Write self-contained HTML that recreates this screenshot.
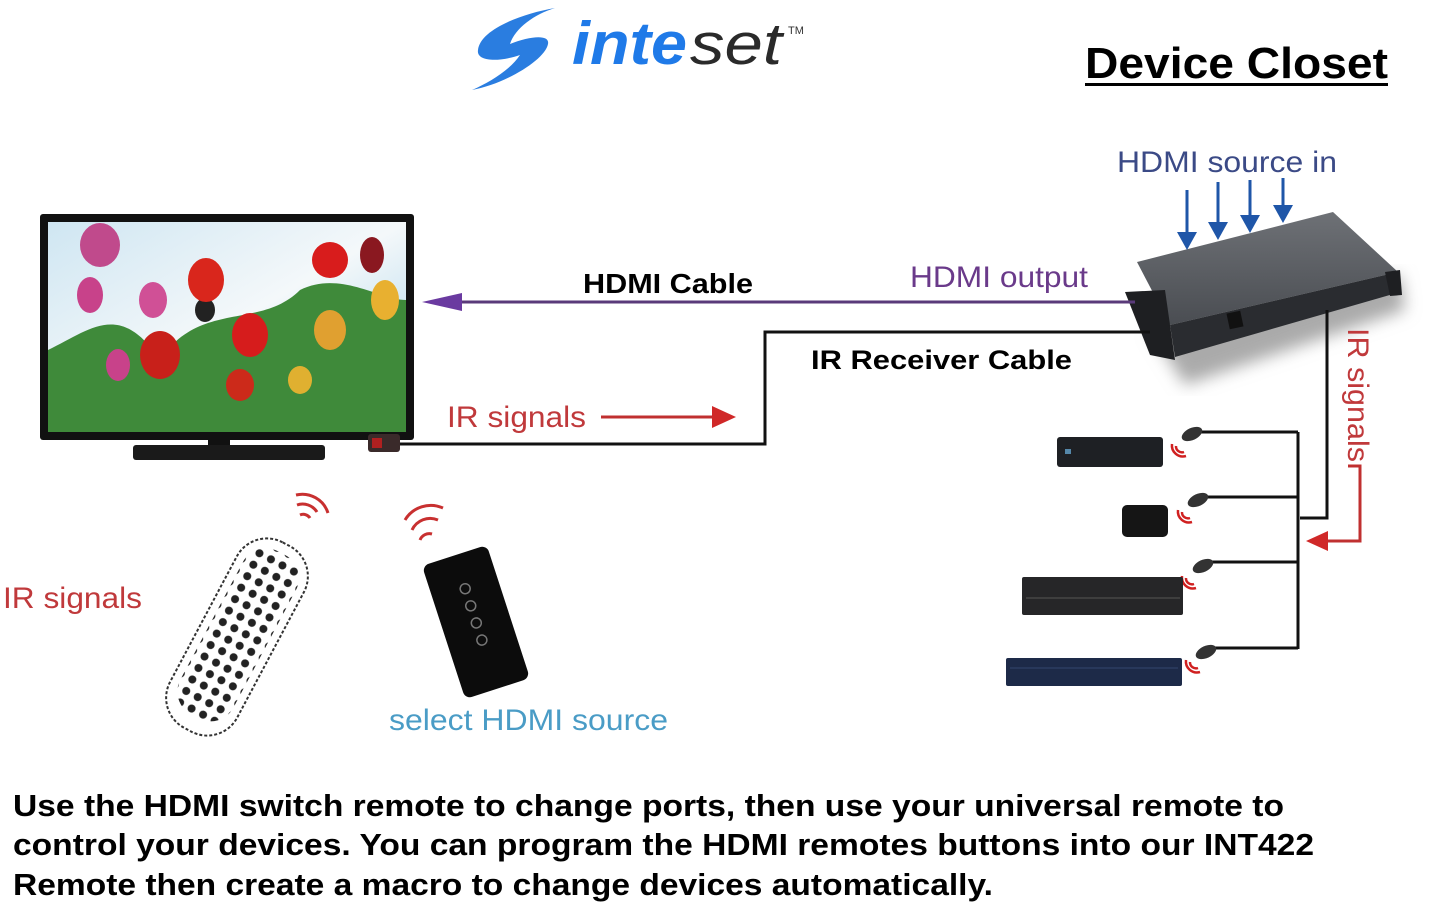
<!DOCTYPE html>
<html><head><meta charset="utf-8"><style>
html,body{margin:0;padding:0;background:#fff;width:1445px;height:904px;overflow:hidden}
svg{display:block;font-family:"Liberation Sans",sans-serif}
</style></head><body>
<svg width="1445" height="904" viewBox="0 0 1445 904" xmlns="http://www.w3.org/2000/svg">
<defs>
<linearGradient id="sky" x1="0" y1="0" x2="1" y2="1">
<stop offset="0" stop-color="#cfe6f2"/><stop offset="0.5" stop-color="#f4f8fa"/><stop offset="1" stop-color="#9fd0e8"/></linearGradient>
<linearGradient id="sw" x1="0" y1="0" x2="0" y2="1"><stop offset="0" stop-color="#6e7176"/><stop offset="1" stop-color="#4a4d52"/></linearGradient>
<pattern id="btn" width="13" height="13" patternUnits="userSpaceOnUse"><circle cx="6.5" cy="6.5" r="4" fill="#222"/></pattern>
<filter id="sh"><feGaussianBlur stdDeviation="8"/></filter>
</defs>

<!-- logo -->
<path d="M555 8 C520 14 480 30 478 50 C476 62 500 62 520 55 C510 70 490 82 472 90 C505 84 545 60 548 44 C550 34 530 36 510 44 C515 28 535 14 555 8Z" fill="#2a7de0"/>
<text x="572" y="64" font-size="60" font-weight="bold" font-style="italic" fill="#1f7ae8" textLength="115" lengthAdjust="spacingAndGlyphs">inte</text>
<text x="690" y="64" font-size="58" font-style="italic" fill="#2a2a2a" textLength="92" lengthAdjust="spacingAndGlyphs">set</text>
<text x="788" y="34" font-size="11" fill="#333">TM</text>

<!-- Device Closet -->
<text x="1085" y="78" font-size="44" font-weight="bold" fill="#000" textLength="303" lengthAdjust="spacingAndGlyphs">Device Closet</text>
<rect x="1085" y="83" width="303" height="3" fill="#000"/>

<text x="1117" y="172" font-size="30" fill="#3b4a86" textLength="220" lengthAdjust="spacingAndGlyphs">HDMI source in</text>

<!-- switch -->
<polygon points="1150,330 1400,275 1405,310 1185,385" fill="#aaa" filter="url(#sh)"/>
<polygon points="1137,262 1333,212 1398,272 1170,325" fill="url(#sw)"/>
<polygon points="1170,325 1398,272 1400,292 1175,357" fill="#2a2c30"/>
<polygon points="1125,292 1165,290 1175,360 1150,355" fill="#1e1f22"/>
<polygon points="1385,272 1400,270 1402,295 1390,296" fill="#1e1f22"/>
<rect x="1228" y="312" width="14" height="16" fill="#111" transform="rotate(-12 1235 320)"/>

<g fill="#1f56a8" stroke="#1f56a8" stroke-width="3">
<line x1="1187" y1="190" x2="1187" y2="235"/><line x1="1218" y1="182" x2="1218" y2="225"/><line x1="1250" y1="180" x2="1250" y2="218"/><line x1="1283" y1="178" x2="1283" y2="208"/>
<polygon points="1177,232 1197,232 1187,250" stroke="none"/><polygon points="1208,222 1228,222 1218,240" stroke="none"/><polygon points="1240,215 1260,215 1250,233" stroke="none"/><polygon points="1273,205 1293,205 1283,223" stroke="none"/>
</g>

<!-- TV -->
<rect x="40" y="214" width="374" height="226" rx="3" fill="#111"/>
<rect x="48" y="222" width="358" height="210" fill="url(#sky)"/>
<g>
<path d="M48 432 L48 350 C90 330 120 300 160 360 C200 300 260 330 300 290 C340 270 380 300 406 300 L406 432Z" fill="#3f8a3a"/>
<ellipse cx="100" cy="245" rx="20" ry="22" fill="#c04a8c"/><ellipse cx="90" cy="295" rx="13" ry="18" fill="#c8428a"/><ellipse cx="153" cy="300" rx="14" ry="18" fill="#d05096"/>
<ellipse cx="118" cy="365" rx="12" ry="16" fill="#c8428a"/><ellipse cx="205" cy="310" rx="10" ry="12" fill="#222"/>
<ellipse cx="206" cy="280" rx="18" ry="22" fill="#d9261c"/><ellipse cx="250" cy="335" rx="18" ry="22" fill="#d61c1c"/><ellipse cx="160" cy="355" rx="20" ry="24" fill="#c8201a"/>
<ellipse cx="240" cy="385" rx="14" ry="16" fill="#cc2a1a"/><ellipse cx="330" cy="330" rx="16" ry="20" fill="#e0a030"/><ellipse cx="385" cy="300" rx="14" ry="20" fill="#e8b030"/>
<ellipse cx="330" cy="260" rx="18" ry="18" fill="#d81c1c"/><ellipse cx="372" cy="255" rx="12" ry="18" fill="#8a1820"/><ellipse cx="300" cy="380" rx="12" ry="14" fill="#e0b030"/>
</g>
<rect x="208" y="438" width="22" height="8" fill="#111"/>
<rect x="133" y="445" width="192" height="15" rx="3" fill="#1a1a1a"/>
<rect x="368" y="434" width="32" height="18" rx="3" fill="#3a2a2a"/><rect x="372" y="438" width="10" height="10" fill="#b02020"/>

<!-- HDMI cable -->
<line x1="455" y1="302" x2="1135" y2="302" stroke="#5a3a7a" stroke-width="3"/>
<polygon points="422,302 462,293 462,311" fill="#6a3aa0"/>
<text x="583" y="293" font-size="28" font-weight="bold" fill="#000" textLength="170" lengthAdjust="spacingAndGlyphs">HDMI Cable</text>
<text x="910" y="287" font-size="30" fill="#6a3a8a" textLength="178" lengthAdjust="spacingAndGlyphs">HDMI output</text>

<!-- IR receiver cable -->
<polyline points="1150,332 765,332 765,444 400,444" fill="none" stroke="#111" stroke-width="3"/>
<text x="811" y="369" font-size="27" font-weight="bold" fill="#000" textLength="261" lengthAdjust="spacingAndGlyphs">IR Receiver Cable</text>
<text x="447" y="427" font-size="30" fill="#c0393b" textLength="139" lengthAdjust="spacingAndGlyphs">IR signals</text>
<line x1="601" y1="417" x2="715" y2="417" stroke="#c03030" stroke-width="3"/>
<polygon points="736,417 712,406 712,428" fill="#d02828"/>

<!-- right wiring -->
<polyline points="1327,310 1327,518 1300,518" fill="none" stroke="#111" stroke-width="3"/>
<line x1="1298" y1="432" x2="1298" y2="649" stroke="#111" stroke-width="3"/>
<g stroke="#111" stroke-width="3">
<line x1="1200" y1="432" x2="1298" y2="432"/><line x1="1208" y1="497" x2="1298" y2="497"/><line x1="1212" y1="562" x2="1298" y2="562"/><line x1="1215" y1="648" x2="1298" y2="648"/>
</g>
<g fill="#333"><ellipse cx="1192" cy="434" rx="11" ry="6" transform="rotate(-25 1192 434)"/><ellipse cx="1198" cy="500" rx="11" ry="6" transform="rotate(-25 1198 500)"/><ellipse cx="1203" cy="566" rx="11" ry="6" transform="rotate(-25 1203 566)"/><ellipse cx="1206" cy="652" rx="11" ry="6" transform="rotate(-25 1206 652)"/></g>
<g fill="none" stroke="#d02020" stroke-width="2.5">
<path d="M1176 446 a6 6 0 0 0 8 6 M1172 444 a11 11 0 0 0 14 12"/>
<path d="M1182 512 a6 6 0 0 0 8 6 M1178 510 a11 11 0 0 0 14 12"/>
<path d="M1186 578 a6 6 0 0 0 8 6 M1182 576 a11 11 0 0 0 14 12"/>
<path d="M1190 662 a6 6 0 0 0 8 6 M1186 660 a11 11 0 0 0 14 12"/>
</g>
<text transform="translate(1348,328) rotate(90)" font-size="30" fill="#c0393b" textLength="134" lengthAdjust="spacingAndGlyphs">IR signals</text>
<polyline points="1348,466 1360,466 1360,541 1322,541" fill="none" stroke="#c03030" stroke-width="3"/>
<polygon points="1306,541 1328,531 1328,551" fill="#d02828"/>

<!-- devices -->
<rect x="1057" y="437" width="106" height="30" rx="3" fill="#1e2024"/><rect x="1065" y="449" width="6" height="5" fill="#58a"/>
<rect x="1122" y="505" width="46" height="32" rx="5" fill="#151515"/>
<rect x="1022" y="577" width="161" height="38" rx="2" fill="#262628"/><line x1="1026" y1="598" x2="1180" y2="598" stroke="#555"/>
<rect x="1006" y="658" width="176" height="28" rx="2" fill="#1d2a48"/><line x1="1010" y1="668" x2="1178" y2="668" stroke="#34466e"/>

<!-- IR signals left -->
<text x="3" y="608" font-size="30" fill="#c0393b" textLength="139" lengthAdjust="spacingAndGlyphs">IR signals</text>

<!-- universal remote -->
<g transform="translate(237,637) rotate(28)">
<rect x="-38" y="-105" width="76" height="210" rx="34" fill="#fff" stroke="#333" stroke-width="2" stroke-dasharray="3 2"/>
<rect x="-30" y="-95" width="60" height="185" rx="26" fill="url(#btn)"/>
</g>
<g fill="none" stroke="#c83030" stroke-width="3">
<path d="M300 515 a8 8 0 0 1 10 3"/><path d="M297 505 a17 17 0 0 1 20 7"/><path d="M296 495 a27 27 0 0 1 32 18"/>
<path d="M420 540 a10 10 0 0 1 12 -6"/><path d="M412 530 a20 20 0 0 1 26 -10"/><path d="M405 520 a30 30 0 0 1 38 -12"/>
</g>

<!-- small remote -->
<g transform="translate(476,622) rotate(-18)">
<rect x="-34" y="-70" width="68" height="140" rx="7" fill="#0c0c0c"/>
<g fill="none" stroke="#777" stroke-width="1.5"><circle cx="0" cy="-35" r="5"/><circle cx="0" cy="-17" r="5"/><circle cx="0" cy="1" r="5"/><circle cx="0" cy="19" r="5"/></g>
</g>
<text x="389" y="730" font-size="30" fill="#4a9cc6" textLength="279" lengthAdjust="spacingAndGlyphs">select HDMI source</text>

<!-- bottom text -->
<g font-size="31" font-weight="bold" fill="#000">
<text x="13" y="816" textLength="1271" lengthAdjust="spacingAndGlyphs">Use the HDMI switch remote to change ports, then use your universal remote to</text>
<text x="13" y="855" textLength="1301" lengthAdjust="spacingAndGlyphs">control your devices. You can program the HDMI remotes buttons into our INT422</text>
<text x="13" y="895" textLength="980" lengthAdjust="spacingAndGlyphs">Remote then create a macro to change devices automatically.</text>
</g>
</svg>
</body></html>
